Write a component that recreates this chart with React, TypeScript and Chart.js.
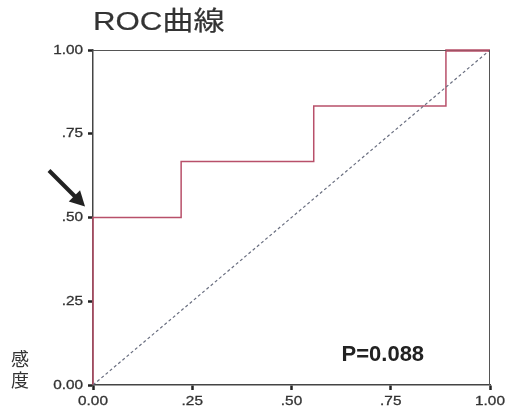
import React, { useEffect, useRef } from "react";
import { Chart, registerables } from "chart.js";

Chart.register(...registerables);

const rocFpr = [0, 0, 0.222, 0.222, 0.556, 0.556, 0.889, 0.889, 1];
const rocTpr = [0, 0.5, 0.5, 0.667, 0.667, 0.833, 0.833, 1, 1];
const diagX = [0, 1];
const diagY = [0, 1];
const xTickLabels = ["0.00", ".25", ".50", ".75", "1.00"];
const yTickLabels = ["0.00", ".25", ".50", ".75", "1.00"];
const titleText = "ROC曲線";
const yAxisLabel = ["感", "度"];
const pText = "P=0.088";
const pPos = { x: 0.73, y: 0.09 };
const arrowAt = 0.5;

const FONT = "'Liberation Sans', Arial, 'Noto Sans CJK JP', sans-serif";
const STRETCH = 1.18;

function stretchedText(ctx: any, text: string, x: number, y: number, align: string, sx: number, thick = 0) {
  ctx.save();
  ctx.translate(x, y);
  ctx.scale(sx, 1);
  ctx.textAlign = align;
  ctx.fillText(text, 0, 0);
  if (thick > 0) {
    ctx.lineWidth = thick;
    ctx.strokeStyle = ctx.fillStyle;
    ctx.strokeText(text, 0, 0);
  }
  ctx.restore();
}

const overlay = {
  id: "overlay",
  afterDatasetsDraw(chart: any) {
    const { ctx, chartArea, scales } = chart;
    const { left, top, right, bottom } = chartArea;
    ctx.save();
    // frame top/right
    ctx.strokeStyle = "#555";
    ctx.lineWidth = 1;
    ctx.beginPath();
    ctx.moveTo(left, top + 0.5);
    ctx.lineTo(right - 0.5, top + 0.5);
    ctx.lineTo(right - 0.5, bottom);
    ctx.stroke();
    // redraw ROC top segment over the frame
    const ds = chart.getDatasetMeta(1);
    ctx.strokeStyle = "#b8506a";
    ctx.lineWidth = 1.5;
    ctx.beginPath();
    const pts = ds.data;
    ctx.moveTo(pts[pts.length - 2].x, pts[pts.length - 2].y + 1);
    ctx.lineTo(pts[pts.length - 1].x - 1, pts[pts.length - 1].y + 1);
    ctx.stroke();
    // tick labels
    ctx.fillStyle = "#333";
    ctx.font = `13px ${FONT}`;
    ctx.textBaseline = "middle";
    scales.y.ticks.forEach((t: any) => {
      const lab = yTickLabels[Math.round(t.value * 4)];
      stretchedText(ctx, lab, left - 10, scales.y.getPixelForValue(t.value), "right", STRETCH, 0.3);
    });
    scales.x.ticks.forEach((t: any) => {
      const lab = xTickLabels[Math.round(t.value * 4)];
      stretchedText(ctx, lab, scales.x.getPixelForValue(t.value), bottom + 16, "center", STRETCH, 0.3);
    });
    // title
    ctx.fillStyle = "#333";
    ctx.font = `26px ${FONT}`;
    ctx.textBaseline = "alphabetic";
    stretchedText(ctx, titleText, left, top - 20, "left", 1.2, 0.2);
    // y label stacked
    ctx.font = `18px 'Noto Sans CJK JP', sans-serif`;
    ctx.textAlign = "center";
    ctx.textBaseline = "middle";
    ctx.fillText(yAxisLabel[0], 20, bottom - 26);
    ctx.fillText(yAxisLabel[1], 20, bottom - 5);
    // P text
    ctx.font = `bold 22px ${FONT}`;
    ctx.fillStyle = "#222";
    ctx.fillText(pText, scales.x.getPixelForValue(pPos.x), scales.y.getPixelForValue(pPos.y));
    // arrow
    const yp = scales.y.getPixelForValue(arrowAt);
    const tipX = left - 8, tipY = yp - 11;
    const tailX = left - 44, tailY = yp - 47;
    ctx.strokeStyle = "#222";
    ctx.fillStyle = "#222";
    ctx.lineWidth = 4;
    ctx.beginPath();
    ctx.moveTo(tailX, tailY);
    ctx.lineTo(tipX - 8, tipY - 8);
    ctx.stroke();
    const ang = Math.atan2(tipY - tailY, tipX - tailX);
    const hl = 15, hw = 8;
    ctx.beginPath();
    ctx.moveTo(tipX, tipY);
    ctx.lineTo(tipX - hl * Math.cos(ang) + hw * Math.sin(ang), tipY - hl * Math.sin(ang) - hw * Math.cos(ang));
    ctx.lineTo(tipX - hl * Math.cos(ang) - hw * Math.sin(ang), tipY - hl * Math.sin(ang) + hw * Math.cos(ang));
    ctx.closePath();
    ctx.fill();
    ctx.restore();
  },
};

const hiddenTicks = (labels: string[]) => ({
  stepSize: 0.25,
  padding: 3,
  color: "rgba(0,0,0,0)",
  font: { family: FONT, size: 13 },
  maxRotation: 0,
  callback: (v: any) => labels[Math.round(Number(v) * 4)],
});

export default function App() {
  const ref = useRef<HTMLCanvasElement>(null);
  useEffect(() => {
    document.body.style.margin = "0";
    const chart = new Chart(ref.current!, {
      type: "scatter",
      data: {
        datasets: [
          {
            data: diagX.map((x, i) => ({ x, y: diagY[i] })),
            showLine: true,
            borderColor: "#6a6f80",
            borderWidth: 1.2,
            borderDash: [3, 2.5],
            pointRadius: 0,
          },
          {
            data: rocFpr.map((x, i) => ({ x, y: rocTpr[i] })),
            showLine: true,
            borderColor: "#b8506a",
            borderWidth: 1.5,
            pointRadius: 0,
            clip: 4,
          },
        ],
      },
      options: {
        responsive: false,
        animation: false,
        layout: { padding: { top: 50, right: 18, left: 0, bottom: 0 } },
        plugins: { legend: { display: false }, tooltip: { enabled: false }, title: { display: false } },
        scales: {
          x: {
            type: "linear",
            min: 0,
            max: 1,
            grid: { display: true, drawOnChartArea: false, drawTicks: true, tickLength: 5, tickWidth: 2.5, color: "#222" },
            border: { display: true, color: "#444", width: 1.5 },
            ticks: hiddenTicks(xTickLabels),
            afterFit: (s: any) => { s.height = 27; },
          },
          y: {
            type: "linear",
            min: 0,
            max: 1,
            grid: { display: true, drawOnChartArea: false, drawTicks: true, tickLength: 5, tickWidth: 2.5, color: "#222" },
            border: { display: true, color: "#444", width: 1.5 },
            ticks: hiddenTicks(yTickLabels),
            afterFit: (s: any) => { s.width = 93; },
          },
        },
      },
      plugins: [overlay],
    });
    return () => chart.destroy();
  }, []);
  return <canvas ref={ref} width={508} height={412} style={{ display: "block" }} />;
}
